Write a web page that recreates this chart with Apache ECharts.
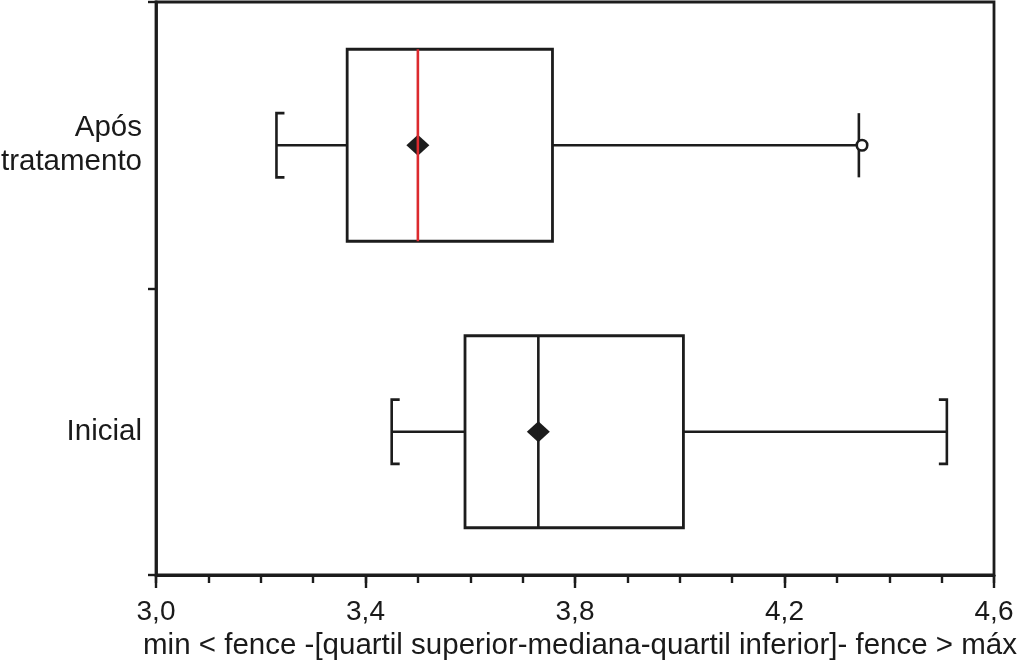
<!DOCTYPE html>
<html>
<head>
<meta charset="utf-8">
<script src="https://cdn.jsdelivr.net/npm/echarts@6/dist/echarts.min.js"></script>
<style>
html,body{margin:0;padding:0;background:#fff;}
#chart{width:1019px;height:663px;}
</style>
</head>
<body>
<div id="chart"></div>
<script>
// ---- data ----
const categories = ['Inicial', 'Após\ntratamento'];
const minVals    = [3.45, 3.23];
const q1Vals     = [3.59, 3.365];
const medianVals = [3.73, 3.50];
const q3Vals     = [4.007, 3.757];
const maxVals    = [4.51, 4.342];
const meanVals   = [3.73, 3.50];
const outlierVals = [[4.348, 1]]; // [value, category index]
const majorTicks = [3.0, 3.4, 3.8, 4.2, 4.6];
const axisTitle = 'min < fence -[quartil superior-mediana-quartil inferior]- fence > máx';

// ---- styles ----
const INK = '#1c1c1c';
const medianColors = [INK, '#dc2a2e'];
const maxSerif = [true, false];
const FONT = 'Liberation Sans';

const boxData = categories.map((c, i) => [i, minVals[i], q1Vals[i], medianVals[i], q3Vals[i], maxVals[i], meanVals[i]]);

function renderBox(params, api) {
  const ci = api.value(0);
  const band = api.size([0, 1])[1];
  const cy = api.coord([0, ci])[1];
  const x = v => api.coord([v, ci])[0];
  const xmin = x(api.value(1)), xq1 = x(api.value(2)), xmed = x(api.value(3));
  const xq3 = x(api.value(4)), xmax = x(api.value(5)), xmean = x(api.value(6));
  const bh = band * 0.335;
  const wh = band * 0.112;
  const serif = 8;
  const ls = {stroke: INK, lineWidth: 2.6, fill: null};
  const children = [];
  // whiskers
  children.push({type: 'line', shape: {x1: xmin, y1: cy, x2: xq1, y2: cy}, style: ls});
  children.push({type: 'line', shape: {x1: xq3, y1: cy, x2: xmax, y2: cy}, style: ls});
  // min bracket
  children.push({type: 'polyline', shape: {points: [[xmin + serif, cy - wh], [xmin, cy - wh], [xmin, cy + wh], [xmin + serif, cy + wh]]}, style: ls});
  // max bracket
  if (maxSerif[ci]) {
    children.push({type: 'polyline', shape: {points: [[xmax - serif, cy - wh], [xmax, cy - wh], [xmax, cy + wh], [xmax - serif, cy + wh]]}, style: ls});
  } else {
    children.push({type: 'line', shape: {x1: xmax, y1: cy - wh, x2: xmax, y2: cy + wh}, style: ls});
  }
  // box
  children.push({type: 'rect', shape: {x: xq1, y: cy - bh, width: xq3 - xq1, height: 2 * bh}, style: {stroke: INK, lineWidth: 2.8, fill: '#fff'}});
  // mean diamond
  children.push({type: 'polygon', shape: {points: [[xmean - 11.5, cy], [xmean, cy - 10.5], [xmean + 11.5, cy], [xmean, cy + 10.5]]}, style: {fill: INK, stroke: null}});
  // median
  children.push({type: 'line', shape: {x1: xmed, y1: cy - bh, x2: xmed, y2: cy + bh}, style: {stroke: medianColors[ci], lineWidth: 2.6}});
  return {type: 'group', children: children};
}

const chart = echarts.init(document.getElementById('chart'), null, {renderer: 'canvas'});
const fmt = v => Number(v).toFixed(1).replace('.', ',');
chart.setOption({
  animation: false,
  backgroundColor: '#fff',
  textStyle: {fontFamily: FONT},
  grid: {left: 156, right: 25, top: 2, bottom: 88, containLabel: false, outerBoundsMode: 'none',
         show: true, borderColor: INK, borderWidth: 2.8, backgroundColor: 'transparent'},
  xAxis: [{
    type: 'value', min: 3.0, max: 4.6, interval: 0.1,
    axisLine: {show: true, onZero: false, lineStyle: {color: INK, width: 2.8}},
    axisTick: {show: true, length: 8, lineStyle: {color: INK, width: 2.4}},
    axisLabel: {show: false},
    splitLine: {show: false}
  }, {
    type: 'value', min: 3.0, max: 4.6, position: 'bottom',
    axisLine: {show: false},
    axisTick: {show: true, length: 13, customValues: majorTicks, lineStyle: {color: INK, width: 2.4}},
    axisLabel: {show: true, customValues: majorTicks, formatter: fmt, color: '#1a1a1a', fontSize: 28, fontFamily: FONT, margin: 23},
    splitLine: {show: false},
    name: axisTitle, nameLocation: 'middle', nameGap: 56,
    nameTextStyle: {color: '#1a1a1a', fontSize: 29.5, fontFamily: FONT, padding: [0, 0, 0, 10]}
  }],
  yAxis: {
    type: 'category', data: categories,
    axisLine: {show: true, lineStyle: {color: INK, width: 2.8}},
    axisTick: {show: true, length: 8, lineStyle: {color: INK, width: 2.4}},
    axisLabel: {color: '#1a1a1a', fontSize: 29.5, fontFamily: FONT, margin: 14, lineHeight: 34, align: 'right'},
    splitLine: {show: false}
  },
  series: [{
    type: 'custom', xAxisIndex: 0, renderItem: renderBox, data: boxData,
    encode: {x: [1, 2, 3, 4, 5, 6], y: 0}
  }, {
    type: 'scatter', xAxisIndex: 0, data: outlierVals, symbol: 'circle', symbolSize: 10.5,
    itemStyle: {color: '#fff', borderColor: INK, borderWidth: 2.6, opacity: 1}, z: 5
  }]
});
</script>
</body>
</html>
